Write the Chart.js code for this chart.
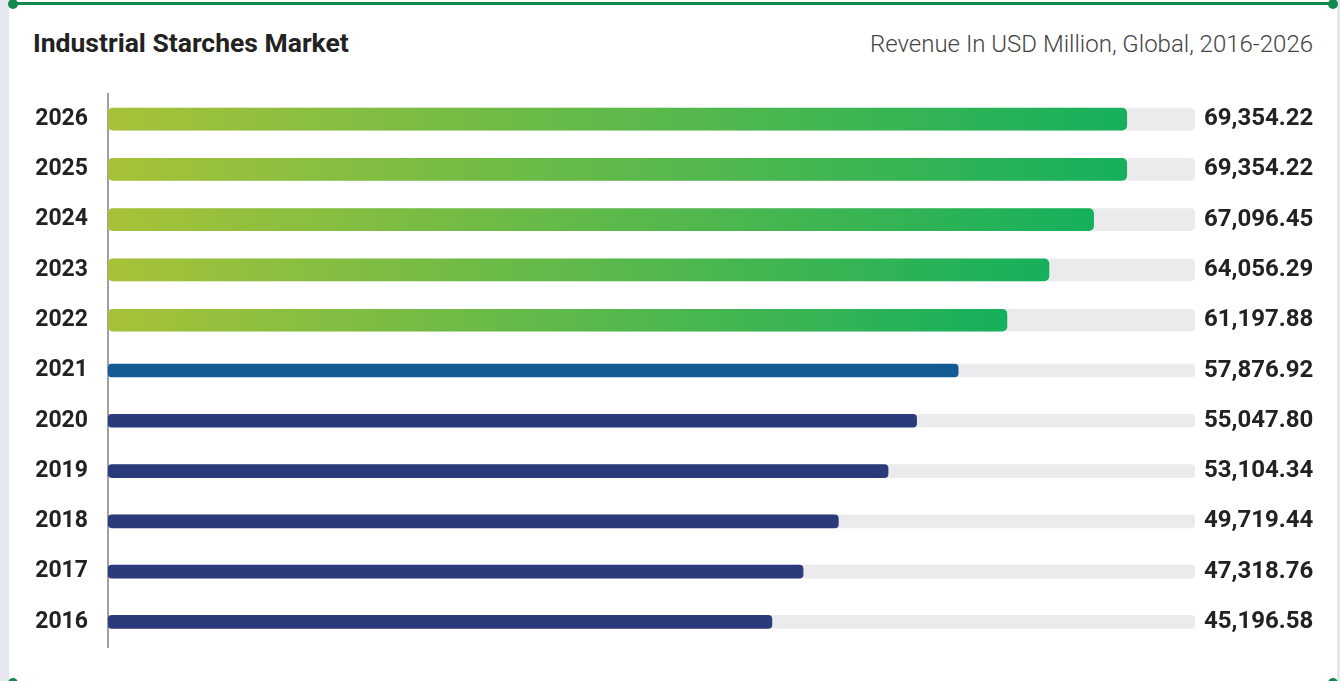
<!DOCTYPE html>
<html>
<head>
<meta charset="utf-8">
<script src="https://cdn.jsdelivr.net/npm/chart.js@4.4.1/dist/chart.umd.min.js"></script>
<style>
    html, body { margin: 0; padding: 0; background: #e5e7ee; }
    .card { position: absolute; left: 9px; top: 0; width: 1328px; height: 681px; background: #fff; overflow: hidden; }
    .topline { position: absolute; left: 13px; top: 2px; width: 1320px; height: 3px; background: #12884a; }
    .dot { position: absolute; width: 10px; height: 10px; border-radius: 50%; background: #12884a; }
    .titulo { position: absolute; left: 33px; top: 27px; font: bold 26.5px Roboto, sans-serif; line-height: 32px; color: #222; }
    .subtitulo { position: absolute; right: 27px; top: 29px; font: 300 24px Roboto, sans-serif; line-height: 30px; color: #444; }
    #wrap { position: absolute; left: 0; top: 0; width: 1340px; height: 681px; }
</style>
</head>
<body>
<div class="card"></div>
<div class="topline"></div>
<div class="dot" style="left:8px;top:-1px"></div>
<div class="dot" style="left:1328px;top:-1px"></div>
<div class="dot" style="left:8px;top:678px"></div>
<div class="dot" style="left:1328px;top:678px"></div>
<div class="titulo">Industrial Starches Market</div>
<div class="subtitulo">Revenue In USD Million, Global, 2016-2026</div>
<div id="wrap"><canvas id="graficoAlmidon"></canvas></div>

<script>
const anios = [2016, 2017, 2018, 2019, 2020, 2021, 2022, 2023, 2024, 2025, 2026];
const ingresos = [45196.58, 47318.76, 49719.44, 53104.34, 55047.80, 57876.92, 61197.88, 64056.29, 67096.45, 69354.22, 69354.22];
const etiquetasValor = ingresos.map(v => v.toLocaleString('en-US', {minimumFractionDigits: 2, maximumFractionDigits: 2}));

const anioPronostico = 2022;   // desde aqui barras verdes (gruesas)
const anioBase = 2021;         // barra azul clara
const ejeMax = 74000;

const esPronostico = anios.map(a => a >= anioPronostico);
const datosVerde = ingresos.map((v, i) => esPronostico[i] ? v : null);
const datosAzul = ingresos.map((v, i) => esPronostico[i] ? null : v);
const pistaGruesa = anios.map((a, i) => esPronostico[i] ? ejeMax : null);
const pistaDelgada = anios.map((a, i) => esPronostico[i] ? null : ejeMax);

function degradado(context) {
    const chart = context.chart;
    const v = context.dataset.data[context.dataIndex];
    if (v == null || !chart.chartArea) return '#5fb74c';
    const xs = chart.scales.x;
    const x0 = xs.getPixelForValue(0);
    const x1 = xs.getPixelForValue(v);
    const g = chart.ctx.createLinearGradient(x0, 0, x1, 0);
    g.addColorStop(0, '#a7c238');
    g.addColorStop(1, '#16b05c');
    return g;
}

new Chart(document.getElementById('graficoAlmidon'), {
    type: 'bar',
    data: {
        labels: anios.map(String),
        datasets: [
            { data: datosVerde, backgroundColor: degradado, barThickness: 22, borderRadius: 5, borderSkipped: false, order: 0 },
            { data: datosAzul, backgroundColor: anios.map(a => a === anioBase ? '#135b95' : '#2b3a7b'), barThickness: 13, borderRadius: 4, borderSkipped: false, order: 0 },
            { data: pistaGruesa, backgroundColor: '#ebebed', barThickness: 22, borderRadius: 5, borderSkipped: false, order: 1 },
            { data: pistaDelgada, backgroundColor: '#ebebed', barThickness: 13, borderRadius: 4, borderSkipped: false, order: 1 }
        ]
    },
    options: {
        indexAxis: 'y',
        responsive: true,
        maintainAspectRatio: false,
        animation: false,
        grouped: false,
        layout: { padding: { top: 94, bottom: 34, left: 0, right: 0 } },
        plugins: { legend: { display: false }, tooltip: { enabled: false } },
        scales: {
            x: { display: false, min: 0, max: ejeMax },
            y: {
                reverse: true,
                offset: true,
                grid: { display: false, drawTicks: false },
                border: { display: true, color: '#a0a0a0', width: 2 },
                ticks: { color: '#222', font: { family: 'Roboto', size: 23, weight: 'bold' }, padding: 20 },
                afterFit: s => { s.width = 108; }
            },
            valores: {
                type: 'category',
                position: 'right',
                labels: etiquetasValor,
                reverse: true,
                offset: true,
                grid: { display: false, drawTicks: false },
                border: { display: false },
                ticks: { color: '#222', font: { family: 'Roboto', size: 24, weight: 'bold' }, padding: 9 },
                afterFit: s => { s.width = 145; }
            }
        }
    }
});
</script>
</body>
</html>
